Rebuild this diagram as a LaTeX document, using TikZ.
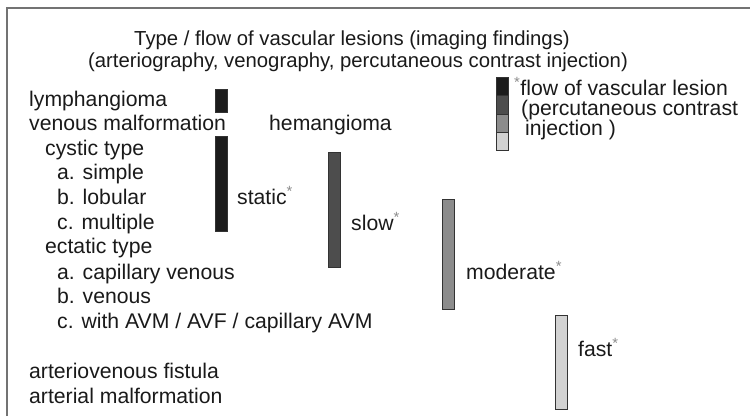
\documentclass[tikz,border=0pt]{standalone}
\usepackage{fontspec}
\setmainfont{Liberation Sans}
\definecolor{cstatic}{HTML}{1C1C1C}
\definecolor{cslow}{HTML}{4D4D4D}
\definecolor{cmod}{HTML}{8C8C8C}
\definecolor{cfast}{HTML}{D2D2D2}
\definecolor{ctext}{HTML}{1A1A1A}
\newcommand\flowstar{\textsuperscript{\textcolor{black!45}{*}}}
\begin{document}
\begin{tikzpicture}[x=1pt,y=-1pt,
  lbl/.style={anchor=base west, inner sep=0pt, font=\fontsize{21.2}{24}\selectfont, text=ctext},
  ttl/.style={anchor=base, inner sep=0pt, font=\fontsize{20.3}{24}\selectfont, text=ctext},
  bar/.style={draw=black!80, line width=0.6pt, minimum width=11.5pt, inner sep=0pt, anchor=north west},
  framel/.style={draw=black!55, line width=1.3pt}
]
\useasboundingbox (0,0) rectangle (750,416);
\fill[white] (0,0) rectangle (750,416);
% frame
\coordinate (fbl) at (7,416);
\coordinate (ftl) at (7,8);
\coordinate (ftr) at (750,8);
\draw[framel] (fbl) -- (ftl) -- (ftr);
% title
\node[ttl] (t1) at (352,45) {Type / flow of vascular lesions (imaging findings)};
\node[ttl] (t2) at (358,67.5) {(arteriography, venography, percutaneous contrast injection)};
% left list
\node[lbl] (l1) at (29,106.5) {lymphangioma};
\node[lbl] (l2) at (29,130.5) {venous malformation};
\node[lbl] (l3) at (45,155.5) {cystic type};
\node[lbl] (l4) at (57,179.5) {a. simple};
\node[lbl] (l5) at (57,204.5) {b. lobular};
\node[lbl] (l6) at (57,229.5) {c. multiple};
\node[lbl] (l7) at (45,253.5) {ectatic type};
\node[lbl] (l8) at (57,279.5) {a. capillary venous};
\node[lbl] (l9) at (57,303.5) {b. venous};
\node[lbl] (l10) at (57,328.5) {c. with AVM / AVF / capillary AVM};
\node[lbl] (l11) at (29,378.5) {arteriovenous fistula};
\node[lbl] (l12) at (29,403.5) {arterial malformation};
\node[lbl] (hem) at (269,130.5) {hemangioma};
% bars
\node[bar, fill=cstatic, minimum height=23pt] (bs1) at (215,89) {};
\node[bar, fill=cstatic, minimum height=95pt] (bs2) at (215,136) {};
\node[bar, fill=cslow, minimum height=115pt] (bsl) at (328,152) {};
\node[bar, fill=cmod, minimum height=110pt] (bmo) at (442,199) {};
\node[bar, fill=cfast, minimum height=94pt] (bfa) at (555,315) {};
% bar labels
\node[lbl] (lst) at (237,204.5) {static\flowstar};
\node[lbl] (lsl) at (351,230.5) {slow\flowstar};
\node[lbl] (lmo) at (466,279.5) {moderate\flowstar};
\node[lbl] (lfa) at (578,356.5) {fast\flowstar};
% legend
\node[bar, fill=cstatic, minimum height=18.25pt] (g1) at (496,77) {};
\node[bar, fill=cslow, minimum height=18.25pt] (g2) at (496,95.25) {};
\node[bar, fill=cmod, minimum height=18.25pt] (g3) at (496,113.5) {};
\node[bar, fill=cfast, minimum height=18.25pt] (g4) at (496,131.75) {};
\node[lbl] (k1) at (514,95) {\flowstar flow of vascular lesion};
\node[lbl] (k2) at (521,115) {(percutaneous contrast};
\node[lbl] (k3) at (525,135) {injection )};
\end{tikzpicture}
\end{document}
